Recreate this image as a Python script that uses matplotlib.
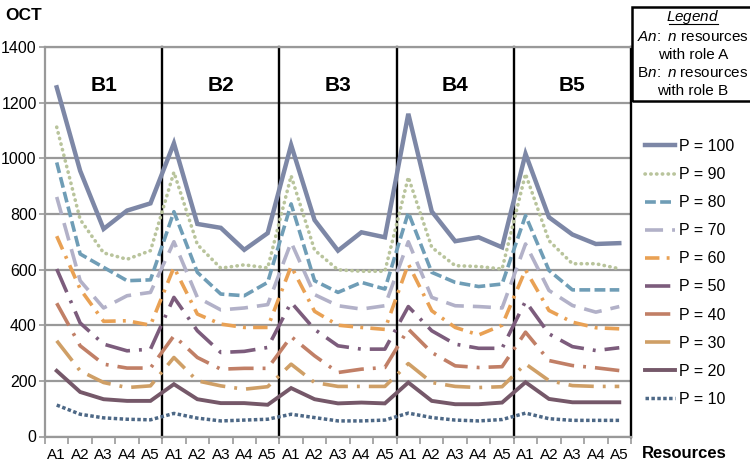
import matplotlib
matplotlib.use("Agg")
import matplotlib.pyplot as plt
from matplotlib.lines import Line2D
from matplotlib.patches import Rectangle

plt.rcParams["font.family"] = ["Liberation Sans", "DejaVu Sans"]
plt.rcParams["mathtext.fontset"] = "custom"
plt.rcParams["mathtext.rm"] = "Liberation Sans"
plt.rcParams["mathtext.it"] = "Liberation Sans:italic"

# %% data
groups = ["B1", "B2", "B3", "B4", "B5"]
roles = ["A1", "A2", "A3", "A4", "A5"]
categories = [r for g in groups for r in roles]

p100 = [1255, 955, 746, 812, 838, 1054, 764, 750, 671, 731, 1048, 778, 668, 734, 716,
        1160, 809, 702, 716, 680, 1016, 788, 726, 692, 695]
p90 = [1112, 780, 660, 637, 668, 950, 690, 605, 617, 606, 937, 670, 599, 594, 594,
       932, 680, 614, 611, 602, 944, 704, 621, 621, 603]
p80 = [985, 656, 608, 560, 563, 808, 590, 512, 506, 554, 836, 560, 518, 554, 530,
       805, 590, 554, 539, 548, 794, 597, 527, 527, 527]
p70 = [861, 560, 462, 506, 518, 700, 500, 455, 462, 474, 698, 510, 470, 458, 470,
       700, 500, 470, 467, 462, 692, 525, 471, 447, 467]
p60 = [720, 530, 414, 416, 400, 608, 440, 404, 392, 392, 612, 450, 400, 392, 385,
       620, 452, 392, 365, 400, 599, 453, 411, 391, 387]
p50 = [602, 408, 332, 308, 314, 500, 380, 302, 306, 320, 482, 385, 326, 314, 314,
       467, 380, 332, 317, 317, 486, 369, 323, 309, 319]
p40 = [479, 326, 260, 246, 246, 362, 284, 242, 245, 245, 359, 290, 230, 242, 248,
       386, 302, 254, 248, 251, 375, 273, 255, 247, 237]
p30 = [344, 236, 194, 176, 182, 284, 200, 182, 170, 179, 260, 194, 180, 180, 180,
       262, 194, 180, 176, 179, 261, 201, 183, 180, 180]
p20 = [236, 160, 134, 128, 128, 188, 134, 120, 120, 114, 174, 134, 119, 122, 119,
       194, 128, 116, 116, 122, 195, 135, 123, 123, 123]
p10 = [113, 80, 67, 62, 60, 83, 66, 56, 59, 62, 80, 68, 56, 56, 59,
       84, 68, 59, 56, 61, 84, 64, 58, 58, 58]

series_labels = ["P = 100", "P = 90", "P = 80", "P = 70", "P = 60",
                 "P = 50", "P = 40", "P = 30", "P = 20", "P = 10"]
series_values = [p100, p90, p80, p70, p60, p50, p40, p30, p20, p10]

# styles
colors = ["#7d87a6", "#b9c49c", "#6f9db6", "#b2b1c8", "#e9a154",
          "#7c5c7c", "#c17f66", "#cf9f66", "#755869", "#4d6886"]
styles = ["-", (0, (0.1, 1.5)), (0, (3, 1.2)), (0, (5, 2.5)), (0, (4, 2, 0.8, 2)),
          (0, (7, 2.5, 0.8, 2.5)), (0, (7, 2.5, 0.8, 2.5)), (0, (7, 2.5, 0.8, 2.5)),
          "-", (0, (1, 0.7))]
widths = [3.2, 2.6, 2.6, 2.6, 2.6, 2.6, 2.6, 2.6, 2.8, 2.5]

# %% figure
fig = plt.figure(figsize=(7.5, 4.67), dpi=100)
ax = fig.add_axes([45 / 750, 1 - 436.5 / 467, (631 - 45) / 750, (436.5 - 47) / 467])

x = list(range(len(categories)))
for vals, lab, c, ls, lw in zip(series_values, series_labels, colors, styles, widths):
    capstyle = "round" if lab == "P = 90" else "butt"
    ax.plot(x, vals, color=c, linestyle=ls, linewidth=lw, label=lab,
            dash_capstyle=capstyle, solid_joinstyle="miter", zorder=3)

ax.set_xlim(-0.5, len(categories) - 0.5)
ax.set_ylim(0, 1400)
ax.set_yticks(range(0, 1401, 200))
ax.tick_params(axis="y", labelsize=11.5, length=4, width=1.2, color="#999999", pad=2)

ax.set_xticks([i - 0.5 for i in range(len(categories) + 1)])
ax.set_xticklabels([])
ax.set_xticks(x, minor=True)
ax.set_xticklabels(categories, minor=True, fontsize=11)
ax.tick_params(axis="x", which="major", length=5, width=1.2, color="#999999", direction="out")
ax.tick_params(axis="x", which="minor", length=0, pad=8)

ax.grid(axis="y", color="#999999", linewidth=1.6, zorder=1)
ax.set_axisbelow(True)
for s in ["left", "bottom", "top"]:
    ax.spines[s].set_color("#999999")
    ax.spines[s].set_linewidth(1.6)
ax.spines["right"].set_visible(False)

# group separators
for k in range(1, len(groups) + 1):
    ax.axvline(k * 5 - 0.5, color="black", linewidth=1.7, zorder=2, clip_on=False)
for k, g in enumerate(groups):
    ax.text(k * 5 + 2, 1260, g, ha="center", va="center", fontsize=15, fontweight="bold")

fig.text(5 / 750, 1 - 16 / 467, "OCT", ha="left", va="center", fontsize=12.5, fontweight="bold")
fig.text(642 / 750, 1 - 453 / 467, "Resources", ha="left", va="center", fontsize=12,
         fontweight="bold")

leg = ax.legend(loc="upper left", bbox_to_anchor=(645 / 750, 1 - 139 / 467),
                bbox_transform=fig.transFigure, frameon=False, fontsize=11.5,
                handlelength=1.9, handletextpad=0.25, labelspacing=0.82, borderaxespad=0,
                borderpad=0)

# legend note box
fig.add_artist(Rectangle((632 / 750, 1 - 101 / 467), 0.2, 94 / 467, transform=fig.transFigure,
                         fill=False, edgecolor="black", linewidth=1.8, clip_on=False))
cx = 693 / 750
fig.text(cx, 1 - 17 / 467, r"$\mathit{Legend}$", ha="center", va="center", fontsize=11)
fig.add_artist(Line2D([669 / 750, 718 / 750], [1 - 24 / 467, 1 - 24 / 467],
                      transform=fig.transFigure, color="black", linewidth=0.8))
fig.text(cx, 1 - 37 / 467, r"$\mathit{An}\!:\ \mathit{n}$ resources", ha="center", va="center",
         fontsize=11)
fig.text(cx, 1 - 55 / 467, "with role A", ha="center", va="center", fontsize=11)
fig.text(cx, 1 - 73 / 467, r"B$\mathit{n}\!:\ \mathit{n}$ resources", ha="center", va="center",
         fontsize=11)
fig.text(cx, 1 - 91 / 467, "with role B", ha="center", va="center", fontsize=11)

fig.savefig("out.png", dpi=100)
